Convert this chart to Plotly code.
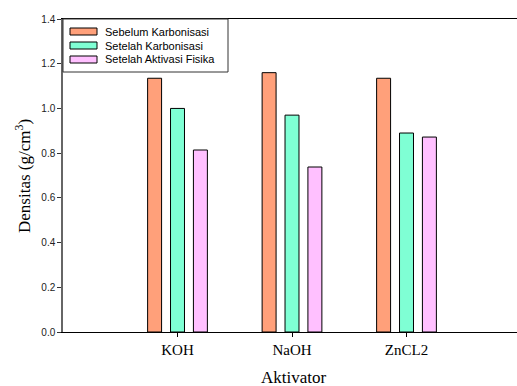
import plotly.graph_objects as go

categories = ["KOH", "NaOH", "ZnCL2"]
series_names = ["Sebelum Karbonisasi", "Setelah Karbonisasi", "Setelah Aktivasi Fisika"]
sebelum_karbonisasi = [1.135, 1.160, 1.135]
setelah_karbonisasi = [1.000, 0.970, 0.890]
setelah_aktivasi = [0.814, 0.738, 0.872]
colors = ["#FFA07A", "#7FFFD4", "#FFC0FF"]

W, H = 517, 386
L, R, T, B = 63, 0, 19, 54
PW, PH = W - L - R, H - T - B


def px(xp):
    return (xp - L) / PW


def py(yp):
    return (H - B - yp) / PH


fig = go.Figure()
for name, vals, col in zip(series_names,
                           [sebelum_karbonisasi, setelah_karbonisasi, setelah_aktivasi],
                           colors):
    fig.add_trace(go.Bar(x=categories, y=vals, name=name,
                         marker=dict(color=col, line=dict(color="black", width=1))))

# custom legend (box, swatches, labels)
shapes = [dict(type="rect", xref="paper", yref="paper",
               x0=px(63), x1=px(228), y0=py(72), y1=py(19),
               line=dict(color="#333333", width=1), fillcolor="white", layer="above")]
annotations = []
row_centers = [31.5, 45.5, 59.5]
for name, col, yc in zip(series_names, colors, row_centers):
    shapes.append(dict(type="rect", xref="paper", yref="paper",
                       x0=px(70), x1=px(97), y0=py(yc + 3.5), y1=py(yc - 3.5),
                       line=dict(color="black", width=1), fillcolor=col, layer="above"))
    annotations.append(dict(text=name, xref="paper", yref="paper",
                            x=px(103), y=py(yc), xanchor="left", yanchor="middle",
                            showarrow=False,
                            font=dict(family="Liberation Sans, Arial", size=11, color="black")))

annotations.append(dict(text="Densitas (g/cm<sup>3</sup>)", xref="paper", yref="paper",
                        x=px(23), y=py(176), xanchor="center", yanchor="middle",
                        textangle=-90, showarrow=False,
                        font=dict(family="Liberation Serif, Times New Roman", size=17, color="black")))
annotations.append(dict(text="Aktivator", xref="paper", yref="paper",
                        x=px(293), y=py(377), xanchor="center", yanchor="middle",
                        showarrow=False,
                        font=dict(family="Liberation Serif, Times New Roman", size=17, color="black")))

fig.update_layout(
    width=W, height=H,
    margin=dict(l=L, r=R, t=T, b=B, autoexpand=False),
    paper_bgcolor="white", plot_bgcolor="white",
    barmode="group", bargap=0.4, bargroupgap=0.39,
    showlegend=False,
    shapes=shapes, annotations=annotations,
    xaxis=dict(range=[-1.0, 2.965], showline=True, linecolor="black", linewidth=1,
               mirror=True, ticks="outside", ticklen=4, tickcolor="black",
               showgrid=False, zeroline=False, automargin=False,
               tickfont=dict(family="Liberation Serif, Times New Roman", size=15, color="black")),
    yaxis=dict(range=[0, 1.4], dtick=0.2, tickformat=".1f",
               showline=True, linecolor="#666666", linewidth=1.5,
               ticks="outside", ticklen=4, tickcolor="#333333",
               showgrid=False, zeroline=False, automargin=False,
               tickfont=dict(family="Liberation Sans, Arial", size=10, color="#222222")),
)

fig.write_html("out.html", config={"displayModeBar": False},
               post_script="document.body.style.margin='0';document.body.style.padding='0';")
